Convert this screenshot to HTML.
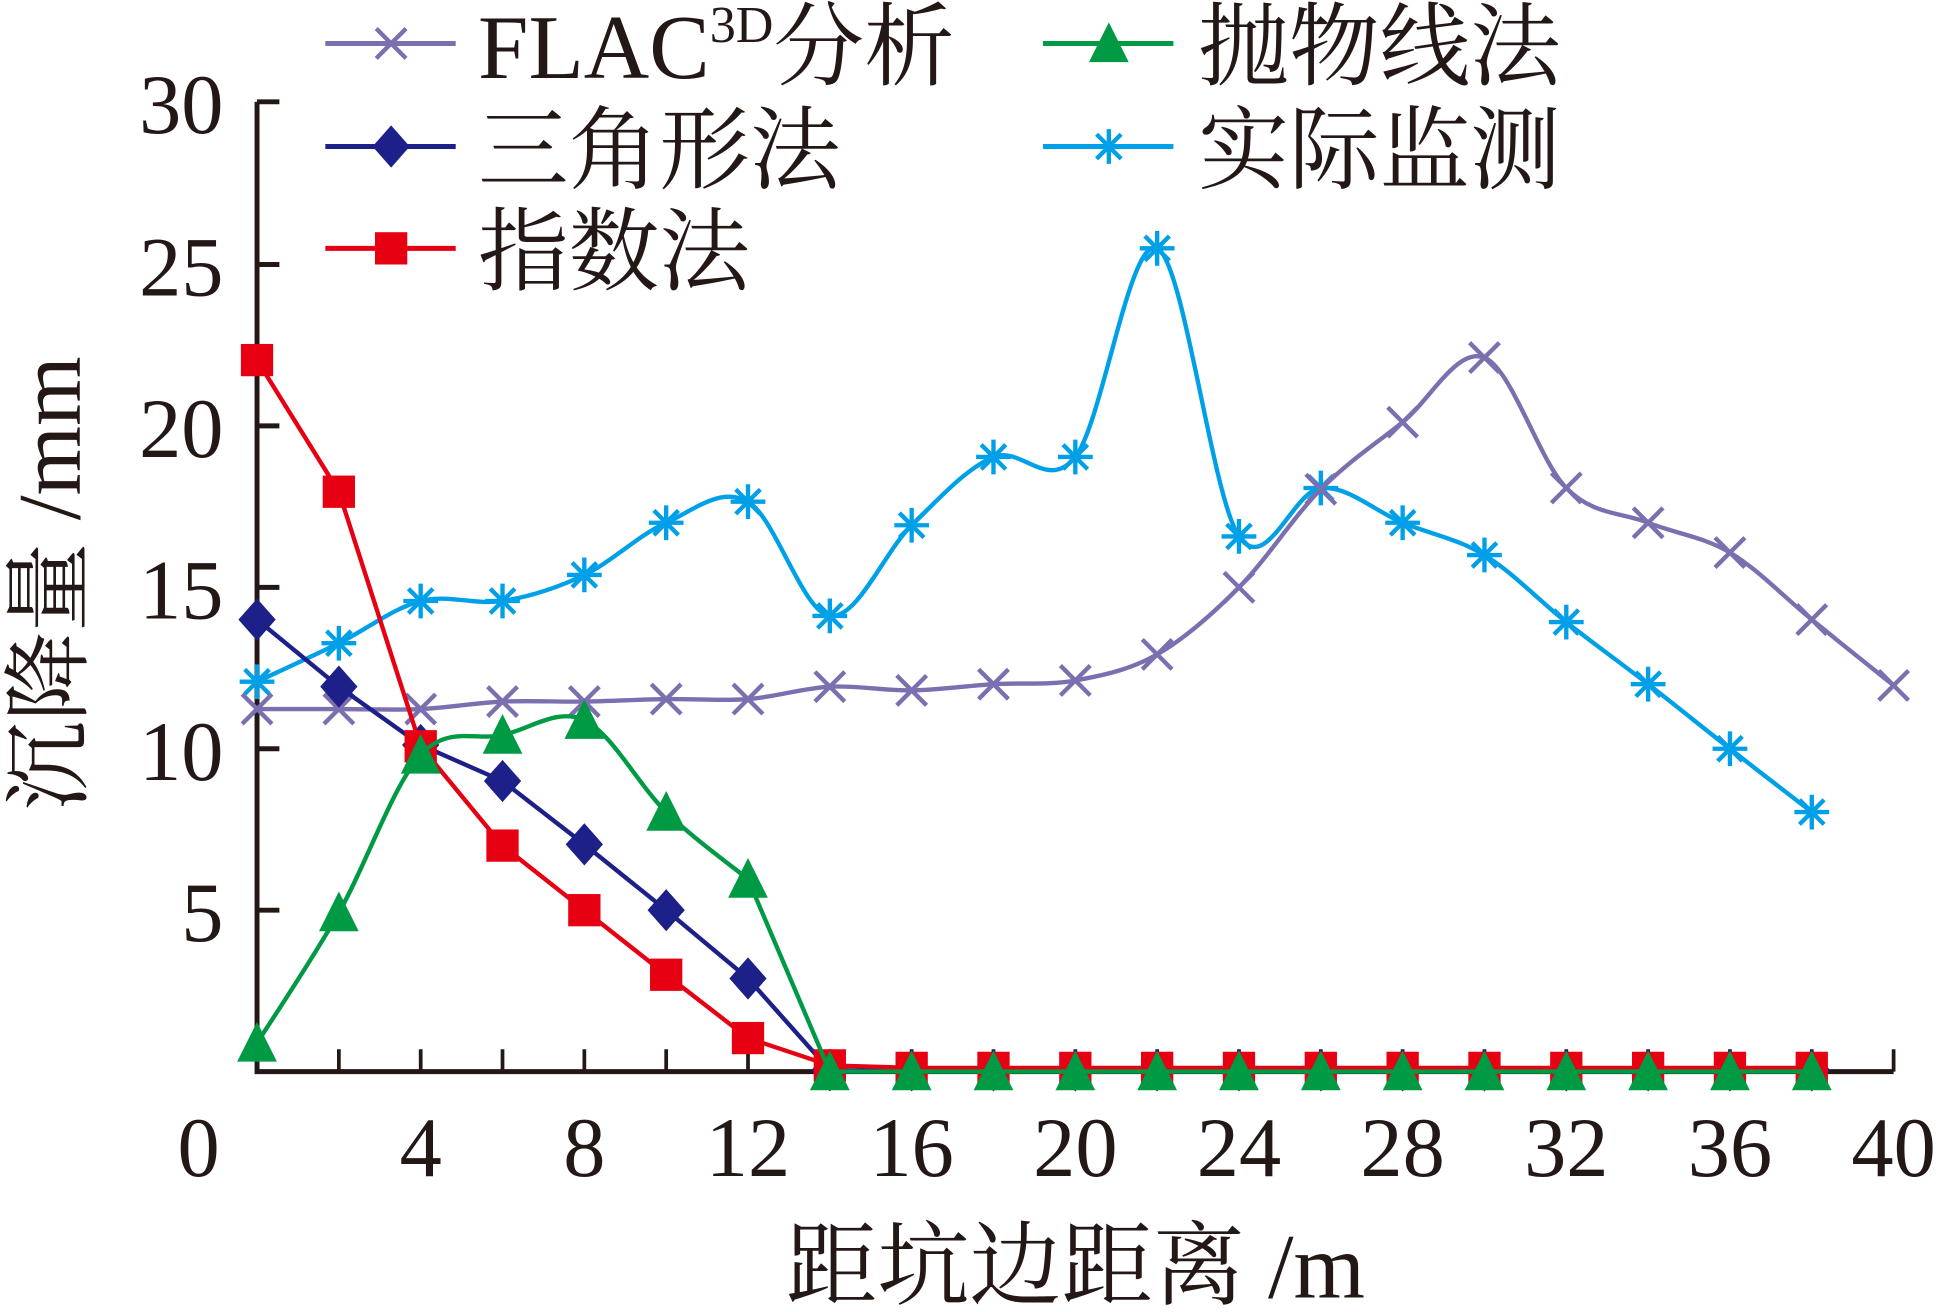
<!DOCTYPE html><html><head><meta charset="utf-8"><style>html,body{margin:0;padding:0;background:#fff}svg{display:block}</style></head><body>
<svg id="s" width="1947" height="1312" viewBox="0 0 1568 1056.6" preserveAspectRatio="none" xmlns="http://www.w3.org/2000/svg" font-family="'Liberation Serif','Noto Serif CJK SC',serif">
<g id="ax" stroke="#231815" stroke-width="4" fill="none"></g>
<g id="plot"></g>
<g fill="#231815" font-size="68" text-anchor="end">
<text x="180" y="107">30</text><text x="180" y="238">25</text><text x="180" y="368">20</text><text x="180" y="498">15</text><text x="180" y="628">10</text><text x="180" y="758">5</text>
</g>
<g fill="#231815" font-size="68" text-anchor="middle" id="xl"></g>
<text x="866" y="1045" font-size="74" text-anchor="middle" fill="#231815">距坑边距离 /m</text>
<text transform="translate(64,470) rotate(-90)" font-size="72" text-anchor="middle" fill="#231815">沉降量 /mm</text>
<g font-size="73" fill="#231815">
<text x="385" y="63">FLAC<tspan font-size="42" dy="-29">3D</tspan><tspan dy="29">分析</tspan></text>
<text x="385" y="146">三角形法</text>
<text x="385" y="228">指数法</text>
<text x="965" y="63">抛物线法</text>
<text x="965" y="146">实际监测</text>
</g>
<g id="leg"></g>
</svg>
<script>
const NS="http://www.w3.org/2000/svg";
function el(p,t,a){const e=document.createElementNS(NS,t);for(const k in a)e.setAttribute(k,a[k]);p.appendChild(e);return e;}
const ax=document.getElementById('ax'),plot=document.getElementById('plot'),leg=document.getElementById('leg'),xl=document.getElementById('xl');
const X0=207,DX=32.95,Y0=863;
el(ax,'path',{d:`M${X0} 82V${Y0}H1525`});
for(let i=1;i<=20;i++){const x=X0+i*2*DX;el(ax,'line',{x1:x,y1:Y0,x2:x,y2:Y0-18,'stroke-width':3});}
for(const y of [82,213,343,473,603,733])el(ax,'line',{x1:X0,y1:y,x2:X0+18,y2:y});
for(let v=0;v<=40;v+=4){const t=el(xl,'text',{x:X0+v*DX-(v==0?47:0),y:947});t.textContent=v;}
function xs(n){return Array.from({length:n},(_,i)=>X0+i*2*DX);}
function cr(P){let d=`M${P[0][0]} ${P[0][1]}`;for(let i=0;i<P.length-1;i++){const p0=P[i-1]||P[i],p1=P[i],p2=P[i+1],p3=P[i+2]||p2;d+=`C${p1[0]+(p2[0]-p0[0])/6} ${p1[1]+(p2[1]-p0[1])/6} ${p2[0]-(p3[0]-p1[0])/6} ${p2[1]-(p3[1]-p1[1])/6} ${p2[0]} ${p2[1]}`;}return d;}
function lin(P){return 'M'+P.map(p=>p.join(' ')).join('L');}
function mark(g,type,x,y,c){
 if(type=='x'){const r=12;el(g,'path',{d:`M${x-r} ${y-r}L${x+r} ${y+r}M${x-r} ${y+r}L${x+r} ${y-r}`,stroke:c,'stroke-width':3.5,fill:'none'});}
 else if(type=='d'){const r=17;el(g,'path',{d:`M${x} ${y-r}L${x+r-2} ${y}L${x} ${y+r}L${x-r+2} ${y}Z`,fill:c});}
 else if(type=='s'){const r=13;el(g,'rect',{x:x-r,y:y-r,width:2*r,height:2*r,fill:c});}
 else if(type=='t'){const r=17;el(g,'path',{d:`M${x} ${y-r}L${x+r-1} ${y+r-2}L${x-r+1} ${y+r-2}Z`,fill:c});}
 else if(type=='a'){const r=14;let d='';for(let k=0;k<4;k++){const a=k*Math.PI/4;d+=`M${x-r*Math.cos(a)} ${y-r*Math.sin(a)}L${x+r*Math.cos(a)} ${y+r*Math.sin(a)}`;}el(g,'path',{d,stroke:c,'stroke-width':3.5,fill:'none'});}
}
const S=[
 {c:'#00a0e9',t:'a',sm:1,y:[549,518,484,484,463,421,404,496,423,368,368,200,432,393,421,447,501,551,603,654]},
 {c:'#7b6fb0',t:'x',sm:1,y:[571,571,571,565,565,563,563,553,556,551,548,527,473,394,340,288,393,421,445,499,552]},
 {c:'#1d2088',t:'d',sm:0,y:[499,553,600,629,680,733,788,862,862,862,862,862,862,862,862,862,862,862,862,862]},
 {c:'#e60012',t:'s',sm:0,y:[290,396,601,681,733,785,836,858,860,860,860,860,860,860,860,860,860,860,860,860]},
 {c:'#009a44',t:'t',sm:1,y:[840,735,608,592,580,654,708,863,863,863,863,863,863,863,863,863,863,863,863,863]}
];
for(const s of S){const X=xs(s.y.length);const P=X.map((x,i)=>[x,s.y[i]]);
 let d;if(s.t=='t'){d=cr(P.slice(0,7))+lin(P.slice(6)).replace('M','L');}else d=s.sm?cr(P):lin(P);
 el(plot,'path',{d,stroke:s.c,'stroke-width':3.5,fill:'none'});
 P.forEach(p=>mark(plot,s.t,p[0],p[1],s.c));}
const L=[['#7b6fb0','x',262,35],['#1d2088','d',262,118],['#e60012','s',262,200],['#009a44','t',840,35],['#00a0e9','a',840,118]];
for(const [c,t,x,y] of L){el(leg,'line',{x1:x,y1:y,x2:x+105,y2:y,stroke:c,'stroke-width':4});mark(leg,t,x+53,y,c);}
</script>
</body></html>
